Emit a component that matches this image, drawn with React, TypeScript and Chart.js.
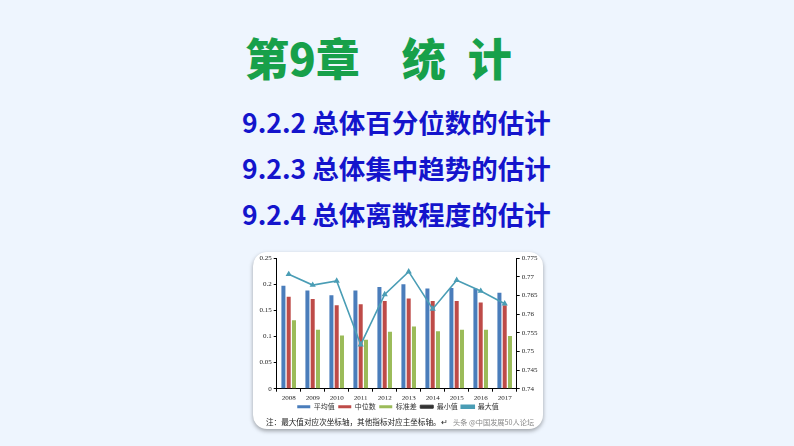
import { useEffect, useRef } from "react";
import { Chart, registerables } from "chart.js";

Chart.register(...registerables);

const years = ["2008", "2009", "2010", "2011", "2012", "2013", "2014", "2015", "2016", "2017"];
const meanValues = [0.197, 0.188, 0.179, 0.188, 0.195, 0.2, 0.192, 0.193, 0.192, 0.184];
const medianValues = [0.176, 0.172, 0.16, 0.162, 0.168, 0.173, 0.168, 0.168, 0.165, 0.16];
const stdValues = [0.131, 0.113, 0.102, 0.094, 0.109, 0.119, 0.11, 0.113, 0.113, 0.101];
const minValues: (number | null)[] = [null, null, null, null, null, null, null, null, null, null];
const maxValues = [0.7707, 0.7678, 0.7689, 0.7518, 0.7653, 0.7714, 0.7614, 0.7691, 0.7662, 0.7628];

const seriesNames = ["平均值", "中位数", "标准差", "最小值", "最大值"];
const leftTicks = [0, 0.05, 0.1, 0.15, 0.2, 0.25];
const rightTicks = [0.74, 0.745, 0.75, 0.755, 0.76, 0.765, 0.77, 0.775];

const tickFont = { family: "'Liberation Serif', serif", size: 7 };

function StatChart() {
  const canvasRef = useRef<HTMLCanvasElement>(null);
  const chartRef = useRef<Chart | null>(null);

  useEffect(() => {
    if (!canvasRef.current) return;
    const ctx = canvasRef.current.getContext("2d");
    if (!ctx) return;

    if (chartRef.current) {
      chartRef.current.destroy();
    }

    chartRef.current = new Chart(ctx, {
      type: "bar",
      data: {
        labels: years,
        datasets: [
          { type: "bar", label: seriesNames[0], data: meanValues, backgroundColor: "#4a7dbb", yAxisID: "y", order: 2 },
          { type: "bar", label: seriesNames[1], data: medianValues, backgroundColor: "#be4b48", yAxisID: "y", order: 2 },
          { type: "bar", label: seriesNames[2], data: stdValues, backgroundColor: "#9bbb59", yAxisID: "y", order: 2 },
          {
            type: "line", label: seriesNames[3], data: minValues, borderColor: "#333333",
            backgroundColor: "#333333", borderWidth: 1, pointRadius: 0, yAxisID: "y1", order: 1,
          },
          {
            type: "line", label: seriesNames[4], data: maxValues, borderColor: "#4a9db5",
            backgroundColor: "#4a9db5", borderWidth: 1.6, pointRadius: 2, pointStyle: "triangle",
            tension: 0, yAxisID: "y1", order: 1,
          },
        ],
      },
      options: {
        responsive: true,
        maintainAspectRatio: false,
        animation: false,
        layout: { padding: { top: 4, left: 0, right: 0, bottom: 0 } },
        datasets: {
          bar: { categoryPercentage: 0.66, barPercentage: 0.76 },
        },
        plugins: {
          legend: {
            position: "bottom",
            labels: {
              boxWidth: 13,
              boxHeight: 3,
              padding: 3.5,
              color: "#333",
              font: { family: "'Noto Sans CJK SC', sans-serif", size: 7 },
              sort: (a: any, b: any) => a.datasetIndex - b.datasetIndex,
            },
          },
          tooltip: { enabled: false },
        },
        scales: {
          x: {
            grid: { display: true, drawOnChartArea: false, color: "#000", tickLength: 3, offset: true },
            border: { color: "#000" },
            ticks: { color: "#222", font: tickFont, padding: 2, maxRotation: 0 },
            afterFit: (s: any) => { s.height = 11; },
          },
          y: {
            position: "left",
            min: 0,
            max: 0.25,
            afterBuildTicks: (s: any) => { s.ticks = leftTicks.map((v) => ({ value: v })); },
            grid: { display: true, drawOnChartArea: false, color: "#000", tickLength: 3 },
            border: { color: "#000" },
            ticks: { color: "#222", font: tickFont, padding: 2, callback: (v: any) => String(Number(v)) },
            afterFit: (s: any) => { s.width = 23.7; },
          },
          y1: {
            position: "right",
            min: 0.74,
            max: 0.775,
            afterBuildTicks: (s: any) => { s.ticks = rightTicks.map((v) => ({ value: v })); },
            grid: { display: true, drawOnChartArea: false, color: "#000", tickLength: 3 },
            border: { color: "#000" },
            ticks: { color: "#222", font: tickFont, padding: 2, callback: (v: any) => String(Number(Number(v).toFixed(3))) },
            afterFit: (s: any) => { s.width = 26.3; },
          },
        },
      },
    } as any);

    return () => {
      if (chartRef.current) {
        chartRef.current.destroy();
        chartRef.current = null;
      }
    };
  }, []);

  return (
    <div
      style={{
        position: "absolute",
        left: 253,
        top: 252,
        width: 290,
        height: 177,
        background: "#fff",
        borderRadius: 14,
        overflow: "hidden",
        boxShadow: "0 2px 4px rgba(0,0,0,0.35)",
      }}
    >
      <div style={{ position: "absolute", left: 0, top: 0, width: 290, height: 168.2 }}>
        <canvas ref={canvasRef}></canvas>
      </div>
      <div
        style={{
          position: "absolute",
          left: 13,
          top: 165,
          fontFamily: "'Noto Sans CJK SC', sans-serif",
          fontSize: 7.6,
          color: "#222",
          whiteSpace: "nowrap",
          lineHeight: "10px",
        }}
      >
        注：最大值对应次坐标轴，其他指标对应主坐标轴。↵
      </div>
      <div
        style={{
          position: "absolute",
          left: 200,
          top: 165,
          fontFamily: "'Noto Sans CJK SC', sans-serif",
          fontSize: 7.2,
          color: "#888",
          whiteSpace: "nowrap",
          lineHeight: "10px",
        }}
      >
        头条 @中国发展50人论坛
      </div>
    </div>
  );
}

export default function App() {
  return (
    <div
      style={{
        position: "fixed",
        left: 0,
        top: 0,
        width: 794,
        height: 446,
        background: "#eef5fe",
        overflow: "hidden",
        fontFamily: "'Noto Sans CJK SC', sans-serif",
      }}
    >
      <div
        style={{
          position: "absolute",
          left: 245,
          top: 28,
          fontSize: 44,
          fontWeight: 900,
          color: "#17a04a",
          whiteSpace: "nowrap",
          lineHeight: "58px",
        }}
      >
        第9章<span style={{ marginLeft: 42 }}>统</span>
        <span style={{ marginLeft: 22 }}>计</span>
      </div>
      {["9.2.2 总体百分位数的估计", "9.2.3 总体集中趋势的估计", "9.2.4 总体离散程度的估计"].map((t, i) => (
        <div
          key={t}
          style={{
            position: "absolute",
            left: 242,
            top: 104 + i * 46,
            fontSize: 26.5,
            fontWeight: 700,
            color: "#1414cc",
            whiteSpace: "nowrap",
            lineHeight: "36px",
          }}
        >
          {t}
        </div>
      ))}
      <StatChart />
    </div>
  );
}
